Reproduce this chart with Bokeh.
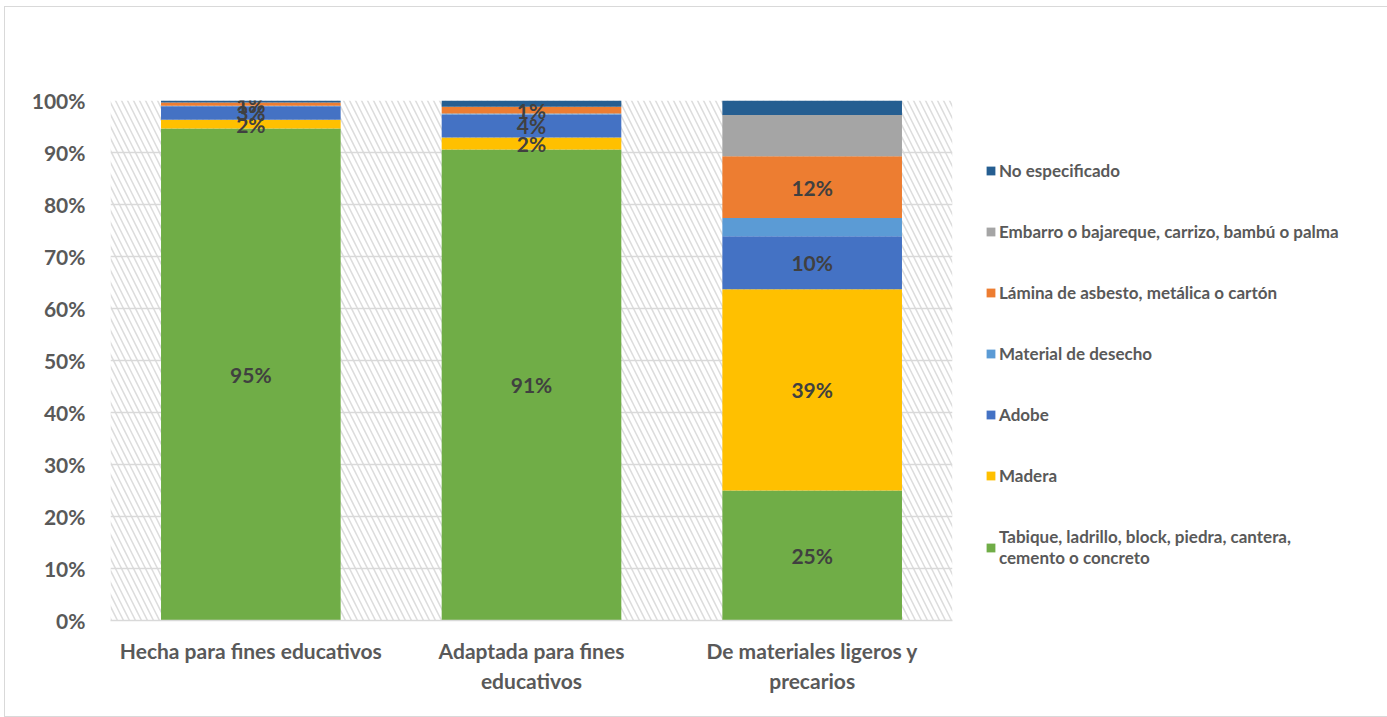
import pandas as pd
from bokeh.plotting import figure
from bokeh.models import (Legend, LegendItem, FixedTicker, Grid, NumeralTickFormatter,
                          ColumnDataSource, BoxAnnotation, Range1d)
from bokeh.core.properties import value
from bokeh.embed import file_html
from bokeh.resources import INLINE

categories = ["Hecha para fines educativos", "Adaptada para fines\neducativos",
              "De materiales ligeros y\nprecarios"]
series_names = ["Tabique, ladrillo, block, piedra, cantera,\ncemento o concreto", "Madera", "Adobe",
                "Material de desecho", "Lámina de asbesto, metálica o cartón",
                "Embarro o bajareque, carrizo, bambú o palma", "No especificado"]
tabique = [0.946, 0.906, 0.250]
madera = [0.017, 0.023, 0.387]
adobe = [0.026, 0.044, 0.102]
desecho = [0.001, 0.002, 0.035]
lamina = [0.006, 0.013, 0.119]
embarro = [0.000, 0.000, 0.079]
no_especificado = [0.004, 0.012, 0.028]
colors = ["#70AD47", "#FFC000", "#4472C4", "#5B9BD5", "#ED7D31", "#A5A5A5", "#255E91"]
labeled = [True, True, True, False, True, False, False]
y_ticks = [0.0, 0.1, 0.2, 0.3, 0.4, 0.5, 0.6, 0.7, 0.8, 0.9, 1.0]

keys = ["tabique", "madera", "adobe", "desecho", "lamina", "embarro", "no_esp"]
df = pd.DataFrame({"cat": categories, "tabique": tabique, "madera": madera, "adobe": adobe,
                   "desecho": desecho, "lamina": lamina, "embarro": embarro,
                   "no_esp": no_especificado})
source = ColumnDataSource(df)

FONT = "Lato"
TXT = "#595959"

p = figure(x_range=categories, y_range=Range1d(0, 1), frame_width=842, frame_height=520,
           output_backend="svg", toolbar_location=None,
           min_border_left=105, min_border_right=430, min_border_top=93, min_border_bottom=96)
p.margin = (7, 0, 0, 5)
p.styles = {"outline": "1px solid #d9d9d9"}
p.outline_line_color = None
p.background_fill_color = "white"

# hatched plot area
p.add_layout(BoxAnnotation(bottom=0, top=1, fill_color=None, fill_alpha=0, line_color=None,
                           hatch_pattern="\\", hatch_color="#dcdcdc", hatch_scale=12,
                           hatch_weight=1.5, level="underlay"))
p.xgrid.grid_line_color = None
p.ygrid.grid_line_color = None
p.add_layout(Grid(dimension=1, ticker=FixedTicker(ticks=y_ticks), grid_line_color="#d9d9d9",
                  grid_line_width=1.5))

renderers = p.vbar_stack(keys, x="cat", width=0.64, color=colors, line_color=None, source=source)

# data labels
lab_x, lab_y, lab_t = [], [], []
for j, c in enumerate(categories):
    bottom = 0.0
    for k, key in enumerate(keys):
        v = df[key][j]
        if labeled[k] and v > 0:
            lab_x.append(c)
            lab_y.append(bottom + v / 2)
            lab_t.append(f"{int(v * 100 + 0.5)}%")
        bottom += v
p.text(x=lab_x, y=lab_y, text=lab_t, text_align="center", text_baseline="middle",
       text_font=value(FONT), text_font_style="bold", text_font_size="21px", text_color="#404040")

# axes
p.yaxis.ticker = FixedTicker(ticks=y_ticks)
p.yaxis.formatter = NumeralTickFormatter(format="0%")
for ax in (p.xaxis[0], p.yaxis[0]):
    ax.major_label_text_font = FONT
    ax.major_label_text_font_style = "bold"
    ax.major_label_text_font_size = "21px"
    ax.major_label_text_color = TXT
    ax.major_tick_line_color = None
    ax.minor_tick_line_color = None
p.yaxis.axis_line_color = None
p.yaxis.major_label_standoff = 19
p.xaxis.axis_line_color = "#d9d9d9"
p.xaxis.axis_line_width = 1.5
p.xaxis.major_label_standoff = 11

items = [LegendItem(label=series_names[k], renderers=[renderers[k]]) for k in range(len(keys) - 1, -1, -1)]
legend = Legend(items=items, location=(33, 52), orientation="vertical",
                label_text_font=FONT, label_text_font_style="bold", label_text_font_size="17px",
                label_text_color=TXT, glyph_width=11, glyph_height=11, label_standoff=3,
                spacing=40, padding=0, margin=0, border_line_color=None, background_fill_alpha=0,
                label_height=20)
p.add_layout(legend, "right")

open("out.html", "w").write(file_html(p, INLINE))
